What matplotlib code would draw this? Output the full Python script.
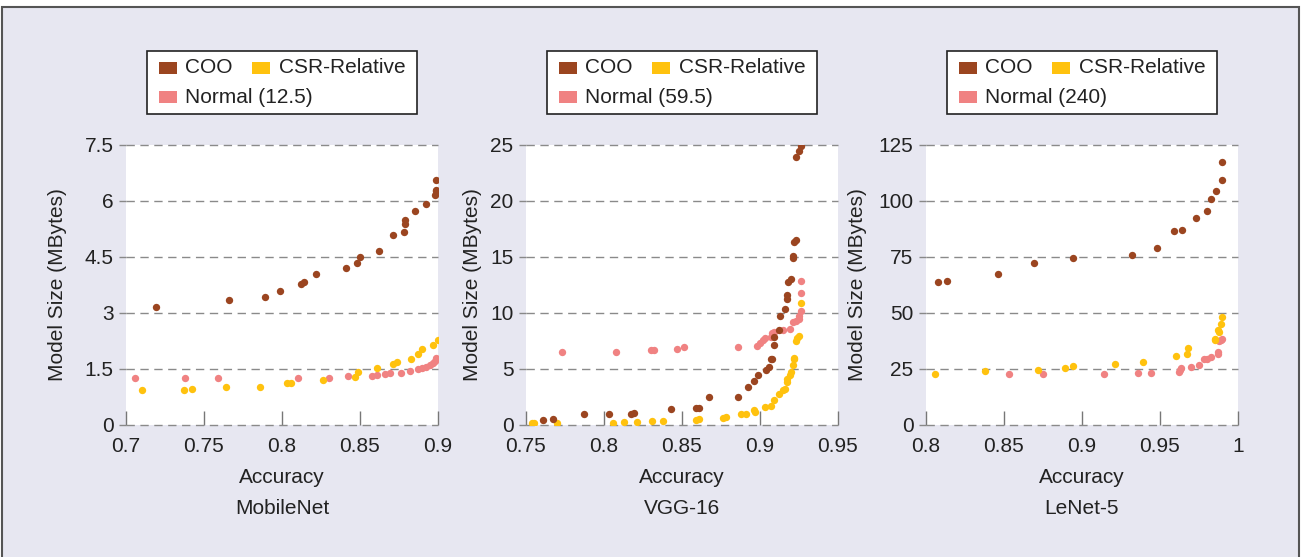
import matplotlib.pyplot as plt
from matplotlib.patches import Rectangle
from matplotlib.offsetbox import AnchoredOffsetbox, HPacker, VPacker, TextArea, DrawingArea

plt.rcParams['font.family'] = ['Liberation Sans', 'DejaVu Sans']
plt.rcParams['font.size'] = 15

# --- MobileNet ---
mob_coo_x = [0.719, 0.766, 0.789, 0.799, 0.812, 0.814, 0.822, 0.841, 0.848, 0.850, 0.862,
             0.871, 0.878, 0.879, 0.879, 0.885, 0.892, 0.898, 0.899, 0.899, 0.899]
mob_coo_y = [3.15, 3.35, 3.43, 3.59, 3.79, 3.82, 4.05, 4.20, 4.34, 4.50, 4.67,
             5.08, 5.17, 5.38, 5.48, 5.74, 5.91, 6.17, 6.27, 6.29, 6.55]
mob_csr_x = [0.710, 0.737, 0.742, 0.764, 0.786, 0.803, 0.806, 0.826, 0.847, 0.849, 0.861,
             0.871, 0.874, 0.883, 0.887, 0.890, 0.897, 0.900]
mob_csr_y = [0.93, 0.95, 0.97, 1.03, 1.03, 1.12, 1.13, 1.20, 1.28, 1.41, 1.54,
             1.63, 1.70, 1.78, 1.91, 2.04, 2.15, 2.28]
mob_nor_x = [0.706, 0.738, 0.759, 0.810, 0.830, 0.842, 0.858, 0.861, 0.866, 0.869, 0.876,
             0.882, 0.887, 0.890, 0.892, 0.895, 0.897, 0.898, 0.899]
mob_nor_y = [1.27, 1.27, 1.27, 1.27, 1.27, 1.31, 1.31, 1.33, 1.36, 1.39, 1.40,
             1.44, 1.51, 1.53, 1.55, 1.60, 1.67, 1.71, 1.80]

# --- VGG-16 ---
vgg_coo_x = [0.761, 0.767, 0.787, 0.803, 0.817, 0.819, 0.843, 0.859, 0.861, 0.867, 0.886,
             0.892, 0.896, 0.899, 0.904, 0.906, 0.907, 0.908, 0.909, 0.909, 0.912, 0.913,
             0.916, 0.917, 0.917, 0.918, 0.920, 0.921, 0.921, 0.922, 0.923, 0.923, 0.925, 0.926]
vgg_coo_y = [0.45, 0.54, 0.95, 0.95, 1.01, 1.10, 1.46, 1.49, 1.49, 2.47, 2.47,
             3.36, 3.95, 4.43, 4.93, 5.14, 5.86, 5.86, 7.13, 7.85, 8.44, 9.72,
             10.32, 11.27, 11.62, 12.78, 13.08, 14.95, 15.13, 16.32, 16.56, 23.96, 24.46, 24.94]
vgg_csr_x = [0.754, 0.755, 0.770, 0.806, 0.813, 0.821, 0.831, 0.838, 0.859, 0.861, 0.876,
             0.878, 0.888, 0.891, 0.896, 0.897, 0.903, 0.907, 0.909, 0.912, 0.915, 0.916,
             0.917, 0.917, 0.919, 0.920, 0.921, 0.922, 0.922, 0.923, 0.924, 0.925, 0.926]
vgg_csr_y = [0.15, 0.15, 0.15, 0.20, 0.24, 0.30, 0.36, 0.36, 0.45, 0.54, 0.65,
             0.71, 0.95, 1.01, 1.34, 1.19, 1.61, 1.66, 2.23, 2.76, 3.12, 3.18,
             3.83, 4.13, 4.49, 4.76, 5.35, 5.86, 6.00, 7.52, 7.73, 7.97, 10.85]
vgg_nor_x = [0.773, 0.808, 0.830, 0.832, 0.847, 0.851, 0.886, 0.898, 0.900, 0.902, 0.903,
             0.907, 0.908, 0.909, 0.915, 0.919, 0.921, 0.923, 0.925, 0.925, 0.926, 0.926, 0.926]
vgg_nor_y = [6.51, 6.51, 6.66, 6.69, 6.78, 6.93, 6.93, 7.07, 7.28, 7.58, 7.76,
             7.88, 8.17, 8.29, 8.44, 8.53, 9.16, 9.25, 9.48, 9.75, 10.14, 11.80, 12.87]

# --- LeNet-5 ---
len_coo_x = [0.8075, 0.8135, 0.846, 0.869, 0.894, 0.932, 0.948, 0.959, 0.964, 0.973,
             0.980, 0.983, 0.986, 0.990, 0.990]
len_coo_y = [63.9, 64.2, 67.5, 72.5, 74.6, 76.1, 78.9, 86.8, 87.2, 92.4,
             95.4, 100.9, 104.6, 109.2, 117.6]
len_csr_x = [0.806, 0.838, 0.872, 0.889, 0.894, 0.921, 0.939, 0.960, 0.967, 0.968,
             0.985, 0.985, 0.987, 0.988, 0.989, 0.990]
len_csr_y = [22.6, 24.1, 24.4, 25.4, 26.2, 27.2, 28.2, 30.8, 31.5, 34.2,
             37.9, 38.5, 42.4, 41.6, 44.9, 48.0]
len_nor_x = [0.853, 0.875, 0.914, 0.936, 0.944, 0.962, 0.9625, 0.9635, 0.970, 0.975,
             0.978, 0.980, 0.983, 0.987, 0.987, 0.988, 0.989, 0.990]
len_nor_y = [22.9, 22.9, 22.9, 23.3, 23.3, 23.5, 24.5, 25.6, 25.7, 26.6,
             29.3, 29.6, 30.3, 31.5, 32.5, 37.3, 37.9, 38.3]

nomes = ['MobileNet', 'VGG-16', 'LeNet-5']
normal_tamanho = ['12.5', '59.5', '240']
xticks = [[0.7, 0.75, 0.8, 0.85, 0.9], [0.75, 0.8, 0.85, 0.9, 0.95], [0.8, 0.85, 0.9, 0.95, 1]]
yticks = [[0, 1.5, 3, 4.5, 6, 7.5], [0, 5, 10, 15, 20, 25], [0, 25, 50, 75, 100, 125]]
xtick_labels = [['0.7', '0.75', '0.8', '0.85', '0.9'],
                ['0.75', '0.8', '0.85', '0.9', '0.95'],
                ['0.8', '0.85', '0.9', '0.95', '1']]
ytick_labels = [['0', '1.5', '3', '4.5', '6', '7.5'],
                ['0', '5', '10', '15', '20', '25'],
                ['0', '25', '50', '75', '100', '125']]

dados = [
    (mob_coo_x, mob_coo_y, mob_csr_x, mob_csr_y, mob_nor_x, mob_nor_y),
    (vgg_coo_x, vgg_coo_y, vgg_csr_x, vgg_csr_y, vgg_nor_x, vgg_nor_y),
    (len_coo_x, len_coo_y, len_csr_x, len_csr_y, len_nor_x, len_nor_y),
]

cor_coo = '#9B4520'
cor_csr = '#FFC20E'
cor_nor = '#F08282'
cor_texto = '#222222'


def item_legenda(cor, texto):
    quadrado = DrawingArea(13, 8.6, 0, 0)
    quadrado.add_artist(Rectangle((0, 0), 13, 8.6, facecolor=cor, edgecolor='none'))
    txt = TextArea(texto, textprops=dict(fontsize=15, color=cor_texto))
    return HPacker(children=[quadrado, txt], align='center', pad=0, sep=6)


fig = plt.figure(figsize=(13.09, 5.57), dpi=100)
fig.patch.set_facecolor('white')

# moldura lilás
fig.patches.append(Rectangle((2 / 1309, -0.02), 1297 / 1309, 0.02 + 550 / 557,
                             transform=fig.transFigure, facecolor='#E7E7F1',
                             edgecolor='#555555', linewidth=1.5, zorder=-10))

lefts = [126, 526, 926]
ylabel_x = [-0.2196, -0.173, -0.218]
for i in range(3):
    ax = fig.add_axes([lefts[i] / 1309, 132 / 557, 312 / 1309, 280 / 557])
    ax.set_facecolor('white')
    cx, cy, sx, sy, nx, ny = dados[i]

    ax.scatter(nx, ny, s=28, color=cor_nor, linewidths=0, zorder=3)
    ax.scatter(sx, sy, s=28, color=cor_csr, linewidths=0, zorder=3)
    ax.scatter(cx, cy, s=28, color=cor_coo, linewidths=0, zorder=4)

    ax.set_xlim(xticks[i][0], xticks[i][-1])
    ax.set_ylim(yticks[i][0], yticks[i][-1])
    ax.set_xticks(xticks[i])
    ax.set_xticklabels(xtick_labels[i])
    ax.set_yticks(yticks[i])
    ax.set_yticklabels(ytick_labels[i])

    for s in ax.spines.values():
        s.set_visible(False)

    ax.yaxis.grid(True, linestyle=(0, (6, 4)), color='#8a8a8a', linewidth=1.0, clip_on=False)
    ax.set_axisbelow(True)
    ax.tick_params(axis='x', direction='in', length=10, width=1, color='#777777',
                   pad=9, labelcolor=cor_texto, labelsize=15)
    ax.tick_params(axis='y', direction='out', length=5, width=1, color='#888888',
                   pad=4, labelcolor=cor_texto, labelsize=15)

    ax.text(0.5, -0.189, 'Accuracy', transform=ax.transAxes, ha='center', va='center',
            color=cor_texto, fontsize=15)
    ax.text(0.5, -0.30, nomes[i], transform=ax.transAxes, ha='center', va='center',
            color=cor_texto, fontsize=15)
    ax.set_ylabel('Model Size (MBytes)', color=cor_texto, fontsize=15, va='center')
    ax.yaxis.set_label_coords(ylabel_x[i], 0.5)

    # legenda em fluxo: COO e CSR-Relative na 1a linha, Normal na 2a
    linha1 = HPacker(children=[item_legenda(cor_coo, 'COO'),
                               item_legenda(cor_csr, 'CSR-Relative')],
                     align='center', pad=0, sep=14)
    linha2 = HPacker(children=[item_legenda(cor_nor, 'Normal (' + normal_tamanho[i] + ')')],
                     align='center', pad=0, sep=0)
    corpo = VPacker(children=[linha1, linha2], align='left', pad=0, sep=7.5)
    caixa = HPacker(children=[DrawingArea(3.3, 1), corpo, DrawingArea(3.3, 1)],
                    align='center', pad=0, sep=0)
    leg = AnchoredOffsetbox(loc='lower center', child=caixa, pad=0.36, borderpad=0,
                            frameon=True, bbox_to_anchor=(0.5, 1.11),
                            bbox_transform=ax.transAxes)
    leg.patch.set_boxstyle('square', pad=0)
    leg.patch.set_edgecolor('#222222')
    leg.patch.set_facecolor('white')
    leg.patch.set_linewidth(1.2)
    ax.add_artist(leg)

fig.savefig('out.png', dpi=100)
